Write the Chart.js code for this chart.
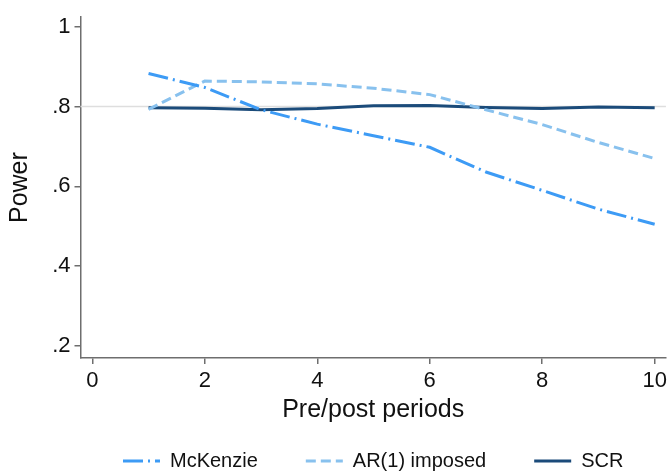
<!DOCTYPE html>
<html>
<head>
<meta charset="utf-8">
<script src="https://cdn.jsdelivr.net/npm/chart.js@4.4.1/dist/chart.umd.min.js"></script>
<style>
  body { margin: 0; background: #fff; }
</style>
</head>
<body>
<canvas id="chart" width="671" height="471"></canvas>
<script>
// data
const periods = [1, 2, 3, 4, 5, 6, 7, 8, 9, 10];
const mckenzie = [0.883, 0.848, 0.792, 0.756, 0.727, 0.698, 0.636, 0.590, 0.543, 0.505];
const ar1Imposed = [0.793, 0.864, 0.862, 0.857, 0.846, 0.830, 0.792, 0.755, 0.710, 0.670];
const scr = [0.797, 0.796, 0.792, 0.795, 0.802, 0.803, 0.798, 0.795, 0.799, 0.797];
const xTicks = [0, 2, 4, 6, 8, 10];
const yTicks = [0.2, 0.4, 0.6, 0.8, 1];
const targetPower = 0.8;

const FONT = '"Liberation Sans", Arial, sans-serif';
Chart.defaults.font.family = FONT;
Chart.defaults.color = "#111";

const toPoints = vals => periods.map((p, i) => ({ x: p, y: vals[i] }));

// ====== Reference line at .8 ======
const refLine = {
  id: "refLine",
  beforeDatasetsDraw(chart) {
    const { ctx, chartArea, scales } = chart;
    const y = scales.y.getPixelForValue(targetPower);
    ctx.save();
    ctx.strokeStyle = "#dedede";
    ctx.lineWidth = 1.5;
    ctx.beginPath();
    ctx.moveTo(chartArea.left, y);
    ctx.lineTo(chartArea.right, y);
    ctx.stroke();
    ctx.restore();
  }
};

// ====== Legend drawn like Stata's ======
const stataLegend = {
  id: "stataLegend",
  afterDraw(chart) {
    const { ctx, chartArea } = chart;
    const lineLen = 37, textGap = 10, itemGap = 48;
    const y = chart.height - 10;
    ctx.save();
    ctx.font = "20px " + FONT;
    const items = chart.data.datasets.map(d => ({
      d, w: lineLen + textGap + ctx.measureText(d.label).width
    }));
    const total = items.reduce((a, it) => a + it.w, 0) + itemGap * (items.length - 1);
    let x = (chartArea.left + chartArea.right) / 2 - total / 2;
    items.forEach(({ d, w }) => {
      ctx.strokeStyle = d.borderColor;
      ctx.lineWidth = d.borderWidth;
      ctx.setLineDash(d.borderDash || []);
      ctx.beginPath();
      ctx.moveTo(x, y);
      ctx.lineTo(x + lineLen, y);
      ctx.stroke();
      ctx.setLineDash([]);
      ctx.fillStyle = "#111";
      ctx.textBaseline = "middle";
      ctx.textAlign = "left";
      ctx.fillText(d.label, x + lineLen + textGap, y);
      x += w + itemGap;
    });
    ctx.restore();
  }
};

const axisGrey = "#6e6e6e";

new Chart(document.getElementById("chart").getContext("2d"), {
  type: "line",
  data: {
    datasets: [
      {
        label: "McKenzie",
        data: toPoints(mckenzie),
        borderColor: "#3d9bf5",
        borderWidth: 3,
        borderDash: [20, 5, 2, 5]
      },
      {
        label: "AR(1) imposed",
        data: toPoints(ar1Imposed),
        borderColor: "#88c1ee",
        borderWidth: 3,
        borderDash: [10, 5]
      },
      {
        label: "SCR",
        data: toPoints(scr),
        borderColor: "#1b4b7a",
        borderWidth: 3
      }
    ]
  },
  options: {
    responsive: false,
    animation: false,
    parsing: false,
    elements: { point: { radius: 0 }, line: { tension: 0, fill: false } },
    layout: { padding: { left: 0, top: 12, right: 5, bottom: 40 } },
    plugins: { legend: { display: false }, tooltip: { enabled: false } },
    scales: {
      x: {
        type: "linear",
        min: -0.21,
        max: 10.2,
        afterBuildTicks: axis => { axis.ticks = xTicks.map(v => ({ value: v })); },
        afterFit: scale => { scale.height = 73; },
        border: { display: true, color: axisGrey, width: 1.5 },
        grid: { drawOnChartArea: false, drawTicks: true, tickLength: 6, color: axisGrey, lineWidth: 1.5 },
        ticks: { font: { size: 22 }, padding: 4, maxRotation: 0, autoSkip: false },
        title: { display: true, text: "Pre/post periods", font: { size: 25 }, padding: { top: 4, bottom: 6 } }
      },
      y: {
        type: "linear",
        min: 0.17,
        max: 1.024,
        afterBuildTicks: axis => { axis.ticks = yTicks.map(v => ({ value: v })); },
        afterFit: scale => { scale.width = 80.5; },
        border: { display: true, color: axisGrey, width: 1.5 },
        grid: { drawOnChartArea: false, drawTicks: true, tickLength: 6, color: axisGrey, lineWidth: 1.5 },
        ticks: {
          font: { size: 22 },
          padding: 4,
          callback: v => (v === 1 ? "1" : String(+v.toFixed(1)).replace("0.", "."))
        },
        title: { display: true, text: "Power", font: { size: 25 }, padding: { top: 5, bottom: 0 } }
      }
    }
  },
  plugins: [refLine, stataLegend]
});
</script>
</body>
</html>
